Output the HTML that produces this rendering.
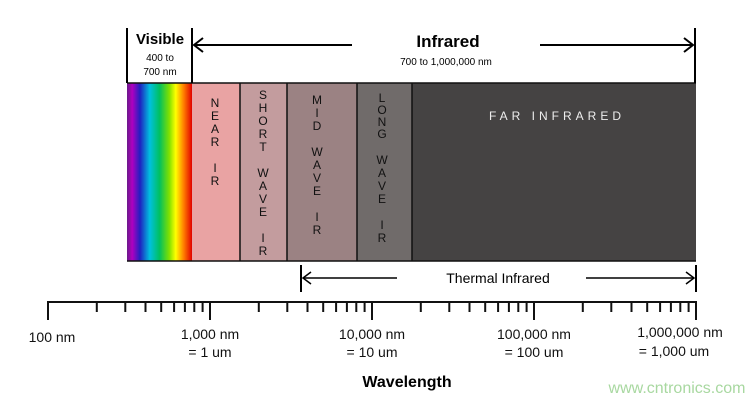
<!DOCTYPE html>
<html><head><style>
body{margin:0;background:#fff;}
svg{display:block;font-family:"Liberation Sans",sans-serif;}
</style></head><body>
<svg width="748" height="405" viewBox="0 0 748 405" xmlns="http://www.w3.org/2000/svg">
<defs>
<linearGradient id="sp" x1="0" x2="1" y1="0" y2="0">
<stop offset="0" stop-color="#6a1a8a"/>
<stop offset="0.08" stop-color="#b000c0"/>
<stop offset="0.2" stop-color="#2020c0"/>
<stop offset="0.35" stop-color="#00c0e0"/>
<stop offset="0.5" stop-color="#00c060"/>
<stop offset="0.65" stop-color="#80e000"/>
<stop offset="0.75" stop-color="#ffff00"/>
<stop offset="0.87" stop-color="#ff8000"/>
<stop offset="1" stop-color="#e00000"/>
</linearGradient>
</defs>
<rect x="127" y="83" width="65" height="178" fill="url(#sp)"/>
<rect x="192" y="83" width="48" height="178" fill="#e9a3a3"/>
<rect x="240" y="83" width="47" height="178" fill="#c39c9e"/>
<rect x="287" y="83" width="70" height="178" fill="#9b8283"/>
<rect x="357" y="83" width="55" height="178" fill="#706b6a"/>
<rect x="412" y="83" width="284" height="178" fill="#454343"/>
<g stroke="#111" stroke-width="1.5">
<line x1="240" y1="83" x2="240" y2="261"/><line x1="287" y1="83" x2="287" y2="261"/>
<line x1="357" y1="83" x2="357" y2="261"/><line x1="412" y1="83" x2="412" y2="261"/>
<line x1="127" y1="83" x2="696" y2="83"/><line x1="127" y1="261" x2="696" y2="261"/>
</g>
<g stroke="#000" stroke-width="2" fill="none">
<line x1="127" y1="28" x2="127" y2="83"/><line x1="192" y1="28" x2="192" y2="83"/>
<line x1="695" y1="28" x2="695" y2="83"/>
<line x1="194" y1="45" x2="352" y2="45"/><line x1="540" y1="45" x2="693" y2="45"/>
<polyline points="203,38 194,45 203,52"/><polyline points="684,38 693,45 684,52"/>
<line x1="301" y1="265" x2="301" y2="292"/><line x1="696" y1="265" x2="696" y2="292"/>
<line x1="303" y1="278" x2="397" y2="278" stroke-width="1.5"/><line x1="586" y1="278" x2="694" y2="278" stroke-width="1.5"/>
<polyline points="311,272 303,278 311,284" stroke-width="1.5"/><polyline points="686,272 694,278 686,284" stroke-width="1.5"/>
</g>
<text x="160" y="44" font-size="15" font-weight="bold" text-anchor="middle">Visible</text>
<text x="160" y="61" font-size="10" text-anchor="middle">400 to</text>
<text x="160" y="75" font-size="10" text-anchor="middle">700 nm</text>
<text x="448" y="47" font-size="17" font-weight="bold" text-anchor="middle">Infrared</text>
<text x="446" y="65" font-size="10" text-anchor="middle">700 to 1,000,000 nm</text>
<g font-size="12" text-anchor="middle" fill="#111">
<text x="215" y="107">N</text><text x="215" y="120">E</text><text x="215" y="133">A</text><text x="215" y="146">R</text>
<text x="215" y="172">I</text><text x="215" y="185">R</text>
<text x="263" y="99">S</text><text x="263" y="112">H</text><text x="263" y="125">O</text><text x="263" y="138">R</text><text x="263" y="151">T</text>
<text x="263" y="177">W</text><text x="263" y="190">A</text><text x="263" y="203">V</text><text x="263" y="216">E</text>
<text x="263" y="242">I</text><text x="263" y="255">R</text>
<text x="317" y="104">M</text><text x="317" y="117">I</text><text x="317" y="130">D</text>
<text x="317" y="156">W</text><text x="317" y="169">A</text><text x="317" y="182">V</text><text x="317" y="195">E</text>
<text x="317" y="221">I</text><text x="317" y="234">R</text>
<text x="382" y="102">L</text><text x="382" y="114">O</text><text x="382" y="126">N</text><text x="382" y="138">G</text>
<text x="382" y="164">W</text><text x="382" y="177">A</text><text x="382" y="190">V</text><text x="382" y="203">E</text>
<text x="382" y="229">I</text><text x="382" y="242">R</text>
</g>
<text x="557" y="120" font-size="12" fill="#eee" text-anchor="middle" letter-spacing="4">FAR INFRARED</text>
<text x="498" y="283" font-size="14" text-anchor="middle">Thermal Infrared</text>
<g stroke="#111" stroke-width="2">
<line x1="47" y1="302" x2="697" y2="302"/>
<line x1="48" y1="302" x2="48" y2="320"/><line x1="210" y1="302" x2="210" y2="320"/>
<line x1="372" y1="302" x2="372" y2="320"/><line x1="534" y1="302" x2="534" y2="320"/>
<line x1="696" y1="302" x2="696" y2="320"/>
</g>
<g stroke="#111" stroke-width="2">
<path d="M96.8 302v10M125.3 302v10M145.5 302v10M161.2 302v10M174.1 302v10M184.9 302v10M194.3 302v10M202.6 302v10
M258.8 302v10M287.3 302v10M307.5 302v10M323.2 302v10M336.1 302v10M346.9 302v10M356.3 302v10M364.6 302v10
M420.8 302v10M449.3 302v10M469.5 302v10M485.2 302v10M498.1 302v10M508.9 302v10M518.3 302v10M526.6 302v10
M582.8 302v10M611.3 302v10M631.5 302v10M647.2 302v10M660.1 302v10M670.9 302v10M680.3 302v10M688.6 302v10"/>
</g>
<g font-size="14" text-anchor="middle" fill="#111">
<text x="52" y="342">100 nm</text>
<text x="210" y="339">1,000 nm</text><text x="210" y="357">= 1 um</text>
<text x="372" y="339">10,000 nm</text><text x="372" y="357">= 10 um</text>
<text x="534" y="339">100,000 nm</text><text x="534" y="357">= 100 um</text>
<text x="680" y="337">1,000,000 nm</text><text x="674" y="356">= 1,000 um</text>
</g>
<text x="407" y="387" font-size="16" font-weight="bold" text-anchor="middle">Wavelength</text>
<text x="677" y="393" font-size="16" fill="#a8d8a0" text-anchor="middle">www.cntronics.com</text>
</svg>
</body></html>
